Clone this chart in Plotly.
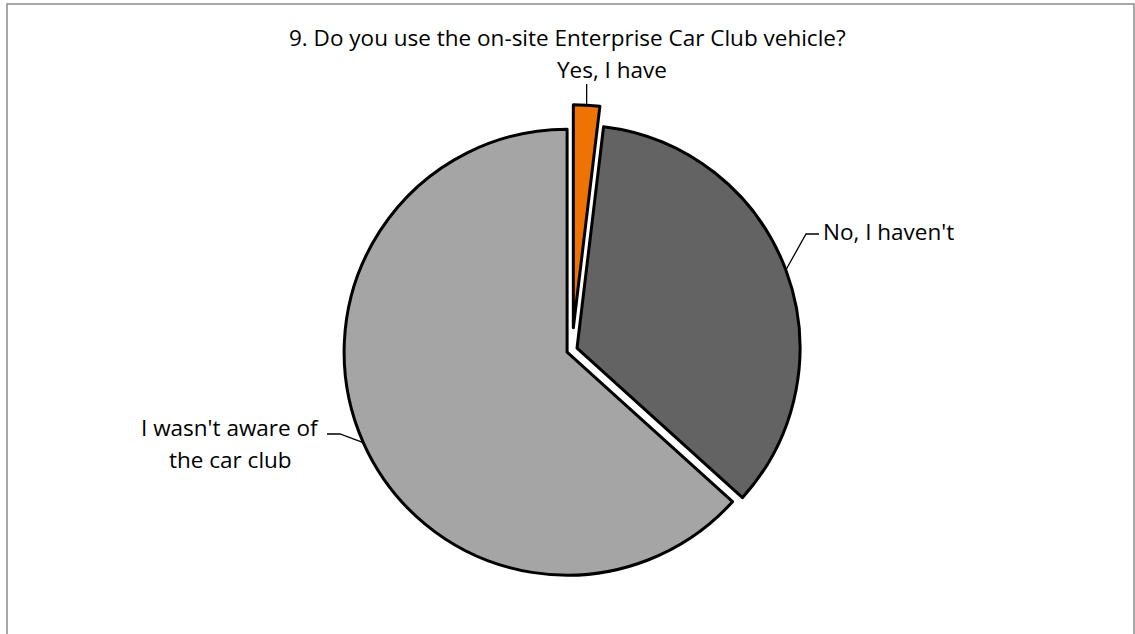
import math
import plotly.graph_objects as go

# ---- data ----
labels = ["Yes, I have", "No, I haven't", "I wasn't aware of the car club"]
label_lines = [["Yes, I have"], ["No, I haven't"], ["I wasn't aware of", "the car club"]]
values = [1.9, 34.8, 63.3]
colors = ["#EF7204", "#636363", "#A5A5A5"]
pulls = [0.10, 0.024, 0.024]
title = "9. Do you use the on-site Enterprise Car Club vehicle?"

W, H = 1135, 634
FONT = "Open Sans"
FS = 22.5

# pie placement (pixels)
CX, CY, R = 572, 350, 223
maxpull = max(pulls)
half = R * (1 + maxpull)
dom_y = [1 - (CY + half) / H, 1 - (CY - half) / H]
dom_x = [(CX - 300) / W, (CX + 300) / W]

fig = go.Figure(go.Pie(
    labels=labels, values=values, sort=False, direction="clockwise", rotation=0,
    pull=pulls, marker=dict(colors=colors, line=dict(color="black", width=3)),
    textinfo="none", hoverinfo="label+percent", showlegend=False,
    domain=dict(x=dom_x, y=dom_y),
))

def px(x):
    return x / W

def py(y):
    return 1 - y / H

# rim anchor points derived from the data angles
total = sum(values)
cum = 0
anchors = []
for v, p in zip(values, pulls):
    mid = (cum + v / 2) / total * 2 * math.pi
    cum += v
    d = (math.sin(mid), -math.cos(mid))
    rr = R * (1 + p)
    anchors.append((CX + rr * d[0], CY + rr * d[1]))

shapes = []
annotations = [dict(text=title, x=px(567), y=py(38), xref="paper", yref="paper",
                    showarrow=False, xanchor="center", yanchor="middle",
                    font=dict(family=FONT, size=FS, color="black"))]

line_style = dict(color="black", width=1.3)

# Yes label
ax, ay = anchors[0]
annotations.append(dict(text=label_lines[0][0], x=px(612), y=py(69), xref="paper", yref="paper",
                        showarrow=False, xanchor="center", yanchor="middle",
                        font=dict(family=FONT, size=FS, color="black")))
shapes.append(dict(type="path", xref="paper", yref="paper",
                   path=f"M {px(ax)},{py(ay)} L {px(ax)},{py(84)}", line=line_style))

# No label
ax, ay = anchors[1]
annotations.append(dict(text=label_lines[1][0], x=px(821), y=py(232), xref="paper", yref="paper",
                        showarrow=False, xanchor="left", yanchor="middle",
                        font=dict(family=FONT, size=FS, color="black")))
shapes.append(dict(type="path", xref="paper", yref="paper",
                   path=f"M {px(ax)},{py(ay)} L {px(806)},{py(234)} L {px(819)},{py(234)}",
                   line=line_style))

# Aware label (two lines)
ax, ay = anchors[2]
for i, t in enumerate(label_lines[2]):
    annotations.append(dict(text=t, x=px(230), y=py(427 + 32 * i), xref="paper", yref="paper",
                            showarrow=False, xanchor="center", yanchor="middle",
                            font=dict(family=FONT, size=FS, color="black")))
shapes.append(dict(type="path", xref="paper", yref="paper",
                   path=f"M {px(ax)},{py(ay)} L {px(340)},{py(434)} L {px(327)},{py(434)}",
                   line=line_style))

# chart frame
shapes.append(dict(type="rect", xref="paper", yref="paper",
                   x0=px(7), x1=px(1134), y0=py(645), y1=py(4),
                   line=dict(color="#8c8c8c", width=1.5), layer="below"))

fig.update_layout(
    width=W, height=H, margin=dict(l=0, r=0, t=0, b=0),
    paper_bgcolor="white", plot_bgcolor="white",
    shapes=shapes, annotations=annotations,
)

fig.write_html("out.html")
